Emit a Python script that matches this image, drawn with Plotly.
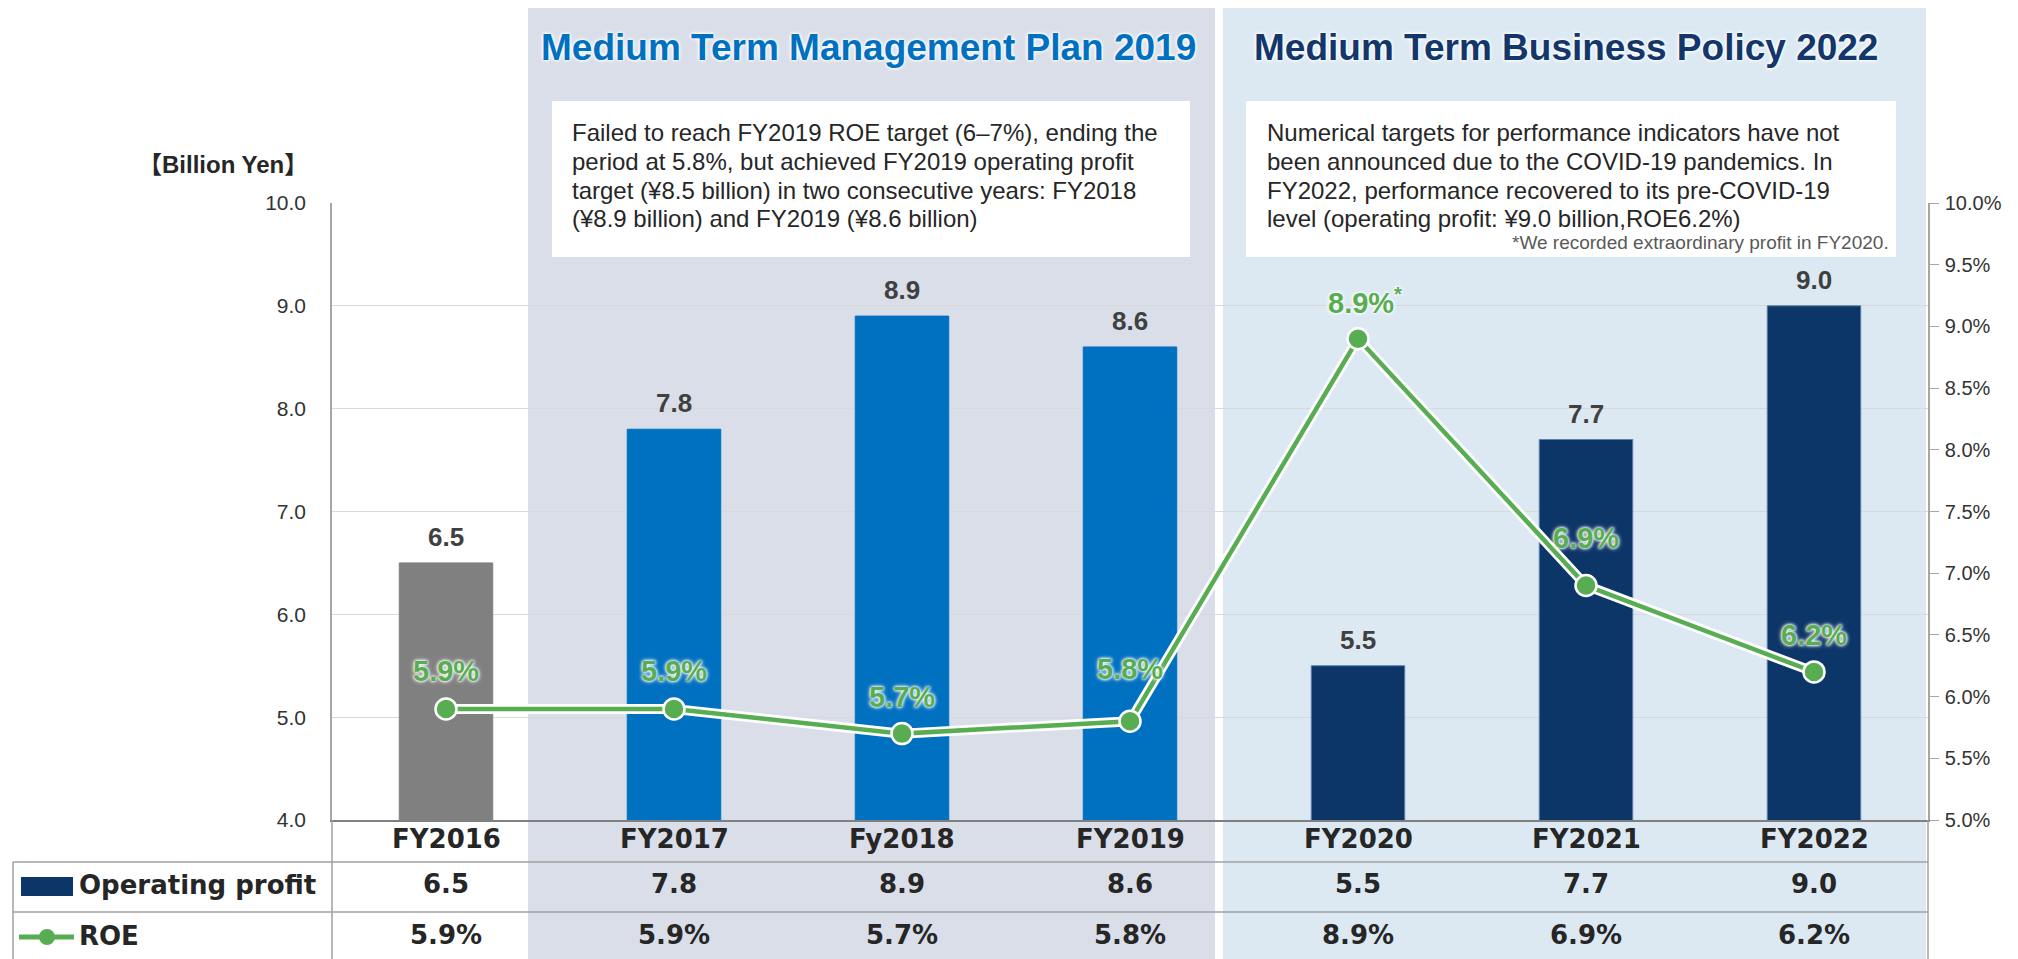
import plotly.graph_objects as go

# ---------------- data ----------------
categories = ["FY2016", "FY2017", "Fy2018", "FY2019", "FY2020", "FY2021", "FY2022"]
operating_profit = [6.5, 7.8, 8.9, 8.6, 5.5, 7.7, 9.0]
roe = [5.9, 5.9, 5.7, 5.8, 8.9, 6.9, 6.2]
roe_labels = ["5.9%", "5.9%", "5.7%", "5.8%", "8.9%<sup>*</sup>", "6.9%", "6.2%"]
profit_table = ["6.5", "7.8", "8.9", "8.6", "5.5", "7.7", "9.0"]
roe_table = ["5.9%", "5.9%", "5.7%", "5.8%", "8.9%", "6.9%", "6.2%"]
left_ticks = [4.0, 5.0, 6.0, 7.0, 8.0, 9.0, 10.0]
right_ticks = [5.0, 5.5, 6.0, 6.5, 7.0, 7.5, 8.0, 8.5, 9.0, 9.5, 10.0]

title_left = "Medium Term Management Plan 2019"
title_right = "Medium Term Business Policy 2022"
box_left_lines = ["Failed to reach FY2019 ROE target (6–7%), ending the",
                  "period at 5.8%, but achieved FY2019 operating profit",
                  "target (¥8.5 billion) in two consecutive years: FY2018",
                  "(¥8.9 billion) and FY2019 (¥8.6 billion)"]
box_right_lines = ["Numerical targets for performance indicators have not",
                   "been announced due to the COVID-19 pandemics. In",
                   "FY2022, performance recovered to its pre-COVID-19",
                   "level (operating profit: ¥9.0 billion,ROE6.2%)"]
note_text = "*We recorded extraordinary profit in FY2020."

# ---------------- styles ----------------
PAGE_OFF = 8                     # default body margin of the html page
W, H = 2018 - PAGE_OFF, 959 - PAGE_OFF
L, R, T, B = 332, 1928, 203, 820  # plot area in page pixels
GRAY_BAR = "#808080"
BLUE = "#0070C0"
NAVY = "#0D3668"
GREEN = "#58AD53"
TXT = "#262626"
bar_colors = [GRAY_BAR, BLUE, BLUE, BLUE, NAVY, NAVY, NAVY]
bar_edges = ["#808080", "#0070C0", "#0070C0", "#0070C0", "#5A7FA8", "#5A7FA8", "#5A7FA8"]
roe_label_shift = [38, 38, 37, 52, 38, 48, 37]
SANS = "Liberation Sans, Arial, sans-serif"
TABLE_FONT = "DejaVu Sans, Verdana, sans-serif"
GLOW = "0px 0px 3px white, 0px 0px 3px white, 0px 0px 5px white"


def px(x):
    return (x - L) / (R - L)


def py(y):
    return (B - y) / (B - T)


fig = go.Figure()

fig.add_trace(go.Bar(
    x=categories, y=operating_profit,
    marker=dict(color=bar_colors, line=dict(width=1, color=bar_edges)),
    width=0.41, yaxis="y", showlegend=False, hoverinfo="x+y"))

# white halo behind ROE line
fig.add_trace(go.Scatter(
    x=categories, y=roe, yaxis="y2", mode="lines",
    line=dict(color="white", width=10), showlegend=False, hoverinfo="skip"))
fig.add_trace(go.Scatter(
    x=categories, y=roe, yaxis="y2", mode="lines+markers",
    line=dict(color=GREEN, width=4.5),
    marker=dict(size=21, color=GREEN, line=dict(color="white", width=2.5)),
    showlegend=False, cliponaxis=False))

shapes = []
# period shading
shapes.append(dict(type="rect", xref="paper", yref="paper", x0=px(528), x1=px(1215),
                   y0=py(960), y1=py(5), fillcolor="#D9DEE9", line=dict(width=0), layer="below"))
shapes.append(dict(type="rect", xref="paper", yref="paper", x0=px(1223), x1=px(1926),
                   y0=py(960), y1=py(5), fillcolor="#DCE9F3", line=dict(width=0), layer="below"))
# white text boxes
shapes.append(dict(type="rect", xref="paper", yref="paper", x0=px(552), x1=px(1190),
                   y0=py(257), y1=py(101), fillcolor="white", line=dict(width=0), layer="below"))
shapes.append(dict(type="rect", xref="paper", yref="paper", x0=px(1246), x1=px(1896),
                   y0=py(257), y1=py(101), fillcolor="white", line=dict(width=0), layer="below"))
# table lines
LINE_C = "#A0A0A0"
for yy in (862, 912):
    shapes.append(dict(type="line", xref="paper", yref="paper", x0=px(13), x1=px(R),
                       y0=py(yy), y1=py(yy), line=dict(color=LINE_C, width=1.5)))
shapes.append(dict(type="line", xref="paper", yref="paper", x0=px(13), x1=px(13),
                   y0=py(862), y1=py(960), line=dict(color=LINE_C, width=1.5)))
for xx in (L, R):
    shapes.append(dict(type="line", xref="paper", yref="paper", x0=px(xx), x1=px(xx),
                       y0=py(B), y1=py(960), line=dict(color=LINE_C, width=1.5)))
# legend swatches
shapes.append(dict(type="rect", xref="paper", yref="paper", x0=px(21), x1=px(73),
                   y0=py(896), y1=py(877), fillcolor=NAVY, line=dict(width=0)))
shapes.append(dict(type="line", xref="paper", yref="paper", x0=px(19), x1=px(74),
                   y0=py(937), y1=py(937), line=dict(color=GREEN, width=5)))
shapes.append(dict(type="circle", xref="paper", yref="paper", x0=px(39), x1=px(55),
                   y0=py(945), y1=py(929), fillcolor=GREEN, line=dict(width=0)))

ann = []
# titles
ann.append(dict(text=f"<b>{title_left}</b>", xref="paper", yref="paper", x=px(868), y=py(47),
                showarrow=False, xanchor="center", yanchor="middle",
                font=dict(family=SANS, size=37, color=BLUE, shadow=GLOW)))
ann.append(dict(text=f"<b>{title_right}</b>", xref="paper", yref="paper", x=px(1566), y=py(47),
                showarrow=False, xanchor="center", yanchor="middle",
                font=dict(family=SANS, size=37, color="#13376B", shadow=GLOW)))
# box texts, one annotation per line
for i, (ln_l, ln_r) in enumerate(zip(box_left_lines, box_right_lines)):
    yy = 132.5 + 28.8 * i
    ann.append(dict(text=ln_l, xref="paper", yref="paper", x=px(570), y=py(yy),
                    showarrow=False, xanchor="left", yanchor="middle", align="left",
                    font=dict(family=SANS, size=24, color=TXT)))
    ann.append(dict(text=ln_r, xref="paper", yref="paper", x=px(1265), y=py(yy),
                    showarrow=False, xanchor="left", yanchor="middle", align="left",
                    font=dict(family=SANS, size=24, color=TXT)))
ann.append(dict(text=note_text, xref="paper", yref="paper", x=px(1891), y=py(243),
                showarrow=False, xanchor="right", yanchor="middle", align="right",
                font=dict(family=SANS, size=19, color="#595959")))
# unit label
ann.append(dict(text="<b>【Billion Yen】</b>", xref="paper", yref="paper", x=px(310), y=py(165),
                showarrow=False, xanchor="right", yanchor="middle",
                font=dict(family="Liberation Sans, Noto Sans CJK JP, sans-serif", size=24, color=TXT)))
# bar value labels
for c, v in zip(categories, operating_profit):
    ann.append(dict(text=f"<b>{v:.1f}</b>", x=c, y=v, xref="x", yref="y", showarrow=False,
                    xanchor="center", yanchor="middle", yshift=26,
                    font=dict(family=SANS, size=26, color="#404040")))
# ROE labels
for c, v, t, s in zip(categories, roe, roe_labels, roe_label_shift):
    ann.append(dict(text=f"<b>{t}</b>", x=c, y=v, xref="x", yref="y2", showarrow=False,
                    xanchor="center", yanchor="middle", yshift=s,
                    xshift=(7 if "sup" in t else 0),
                    font=dict(family=SANS, size=29, color=GREEN, shadow=GLOW)))
# table: category header and rows
ann.append(dict(text="<b>Operating profit</b>", xref="paper", yref="paper", x=px(77), y=py(885),
                showarrow=False, xanchor="left", yanchor="middle",
                font=dict(family=TABLE_FONT, size=26, color=TXT)))
ann.append(dict(text="<b>ROE</b>", xref="paper", yref="paper", x=px(77), y=py(936),
                showarrow=False, xanchor="left", yanchor="middle",
                font=dict(family=TABLE_FONT, size=26, color=TXT)))
for c, a, b in zip(categories, profit_table, roe_table):
    ann.append(dict(text=f"<b>{c}</b>", x=c, xref="x", y=py(839), yref="paper", showarrow=False,
                    xanchor="center", yanchor="middle",
                    font=dict(family=TABLE_FONT, size=26, color=TXT)))
    ann.append(dict(text=f"<b>{a}</b>", x=c, xref="x", y=py(884), yref="paper", showarrow=False,
                    xanchor="center", yanchor="middle",
                    font=dict(family=TABLE_FONT, size=26, color=TXT)))
    ann.append(dict(text=f"<b>{b}</b>", x=c, xref="x", y=py(935), yref="paper", showarrow=False,
                    xanchor="center", yanchor="middle",
                    font=dict(family=TABLE_FONT, size=26, color=TXT)))

fig.update_layout(
    width=W, height=H,
    margin=dict(l=L - PAGE_OFF, r=W - (R - PAGE_OFF), t=T - PAGE_OFF, b=H - (B - PAGE_OFF),
                autoexpand=False),
    paper_bgcolor="white", plot_bgcolor="rgba(0,0,0,0)",
    showlegend=False, bargap=0.59,
    font=dict(family=SANS, color=TXT),
    shapes=shapes, annotations=ann,
    xaxis=dict(type="category", categoryorder="array", categoryarray=categories,
               range=[-0.5, 6.5], showgrid=False, zeroline=False,
               showline=True, linecolor="#808080", linewidth=1.5,
               ticks="", showticklabels=False),
    yaxis=dict(range=[4, 10], tickvals=left_ticks, ticktext=[f"{v:.1f}" for v in left_ticks],
               showgrid=True, gridcolor="#D9D9D9", gridwidth=1.2, zeroline=False,
               showline=True, linecolor="#A6A6A6", linewidth=1.5, ticks="",
               tickfont=dict(family=SANS, size=21, color="#333333"), ticklabelstandoff=20),
    yaxis2=dict(range=[5, 10], overlaying="y", side="right",
                tickvals=right_ticks, ticktext=[f"{v:.1f}%" for v in right_ticks],
                showgrid=False, zeroline=False, showline=True, linecolor="#A6A6A6", linewidth=1.5,
                ticks="outside", ticklen=9, tickcolor="#A6A6A6", tickwidth=1.2,
                tickfont=dict(family=SANS, size=20, color="#333333"), ticklabelstandoff=2),
)

fig.write_html("out.html")
